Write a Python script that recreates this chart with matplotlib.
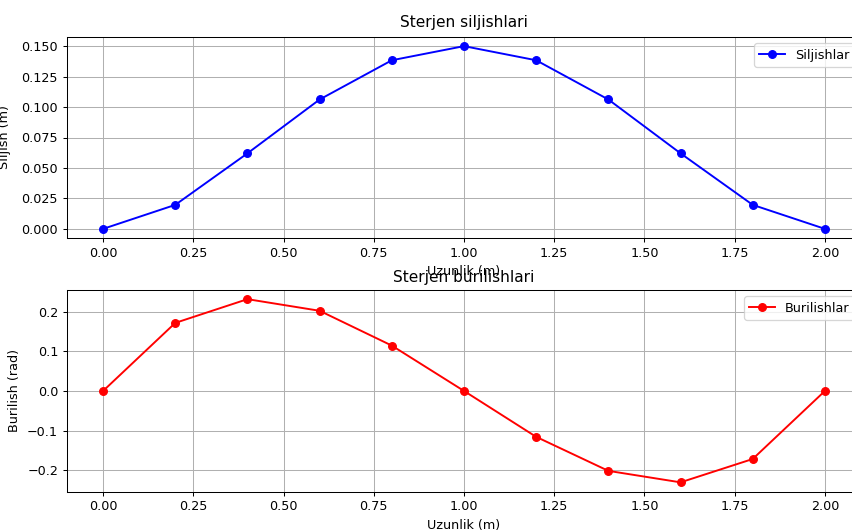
import numpy as np
import matplotlib
matplotlib.use("Agg")
import matplotlib.pyplot as plt

# beam positions (m)
uzunlik = [0.0, 0.2, 0.4, 0.6, 0.8, 1.0, 1.2, 1.4, 1.6, 1.8, 2.0]
# displacements (m)
siljish = [0.0, 0.0197, 0.0620, 0.1062, 0.1384, 0.1500,
           0.1384, 0.1062, 0.0620, 0.0197, 0.0]
# twist angles (rad)
burilish = [0.0, 0.172, 0.232, 0.2026, 0.1146, 0.0,
            -0.116, -0.202, -0.231, -0.172, 0.0]

# reference looks like a slightly shrunk render, so use dpi 92
DPI = 92
fig = plt.figure(figsize=(852/DPI, 531/DPI), dpi=DPI)

# axes placed so the figure looks cropped like the reference
ax1 = fig.add_axes([67/852, (531-238)/531, (861-67)/852, 201/531])
ax2 = fig.add_axes([67/852, (531-491.5)/531, (861-67)/852, 201.5/531])

ax1.plot(uzunlik, siljish, 'b-o', label='Siljishlar')
ax1.set_title('Sterjen siljishlari', pad=7.5)
ax1.set_xlabel('Uzunlik (m)')
ax1.set_ylabel('Siljish (m)')
ax1.yaxis.set_label_coords((11-67)/794, 0.5)
ax1.grid(True)
ax1.legend(loc='upper right')

ax2.plot(uzunlik, burilish, 'r-o', label='Burilishlar')
ax2.set_title('Sterjen burilishlari')
ax2.set_xlabel('Uzunlik (m)')
ax2.set_ylabel('Burilish (rad)')
ax2.yaxis.set_label_coords((21-67)/794, 0.5)
ax2.grid(True)
ax2.legend(loc='upper right')

fig.savefig('out.png', dpi=DPI)
